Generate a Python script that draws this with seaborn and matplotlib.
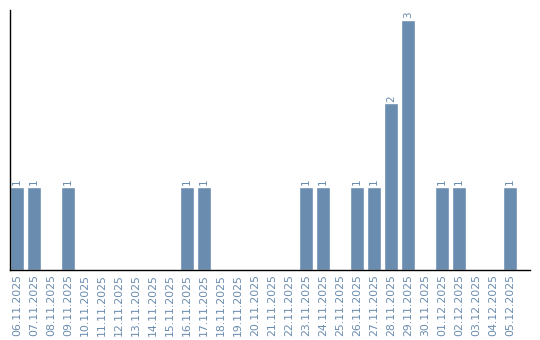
import matplotlib
matplotlib.use("Agg")
import matplotlib.pyplot as plt
import seaborn as sns
import pandas as pd

dates = ["06.11.2025", "07.11.2025", "08.11.2025", "09.11.2025", "10.11.2025",
         "11.11.2025", "12.11.2025", "13.11.2025", "14.11.2025", "15.11.2025",
         "16.11.2025", "17.11.2025", "18.11.2025", "19.11.2025", "20.11.2025",
         "21.11.2025", "22.11.2025", "23.11.2025", "24.11.2025", "25.11.2025",
         "26.11.2025", "27.11.2025", "28.11.2025", "29.11.2025", "30.11.2025",
         "01.12.2025", "02.12.2025", "03.12.2025", "04.12.2025", "05.12.2025"]
counts = [1, 1, 0, 1, 0, 0, 0, 0, 0, 0,
          1, 1, 0, 0, 0, 0, 0, 1, 1, 0,
          1, 1, 2, 3, 0, 1, 1, 0, 0, 1]

df = pd.DataFrame({"date": dates, "count": counts})

sns.set_style("white")
bar_color = "#6a8caf"
text_color = "#6a8caf"

fig = plt.figure(figsize=(5.4, 3.4), dpi=100)
ax = fig.add_axes([10/540, 70/340, 520/540, 260/340])
sns.barplot(data=df, x="date", y="count", color=bar_color, width=14/17,
            saturation=1, ax=ax)

for i, v in enumerate(counts):
    if v > 0:
        ax.text(i, v + 0.02, str(v), rotation=90, ha="center", va="bottom",
                fontsize=7.5, color=text_color)

ax.set_xlim(-7/17, 29 + 20/17)
ax.set_ylim(0, 3.12)
ax.set_xlabel("")
ax.set_ylabel("")
ax.set_yticks([])
ax.tick_params(axis="x", length=0, pad=3, labelsize=7.8, labelcolor=text_color)
for lbl in ax.get_xticklabels():
    lbl.set_rotation(90)
for s in ["top", "right"]:
    ax.spines[s].set_visible(False)
for s in ["left", "bottom"]:
    ax.spines[s].set_color("black")
    ax.spines[s].set_linewidth(1)

fig.savefig("out.png", dpi=100)
